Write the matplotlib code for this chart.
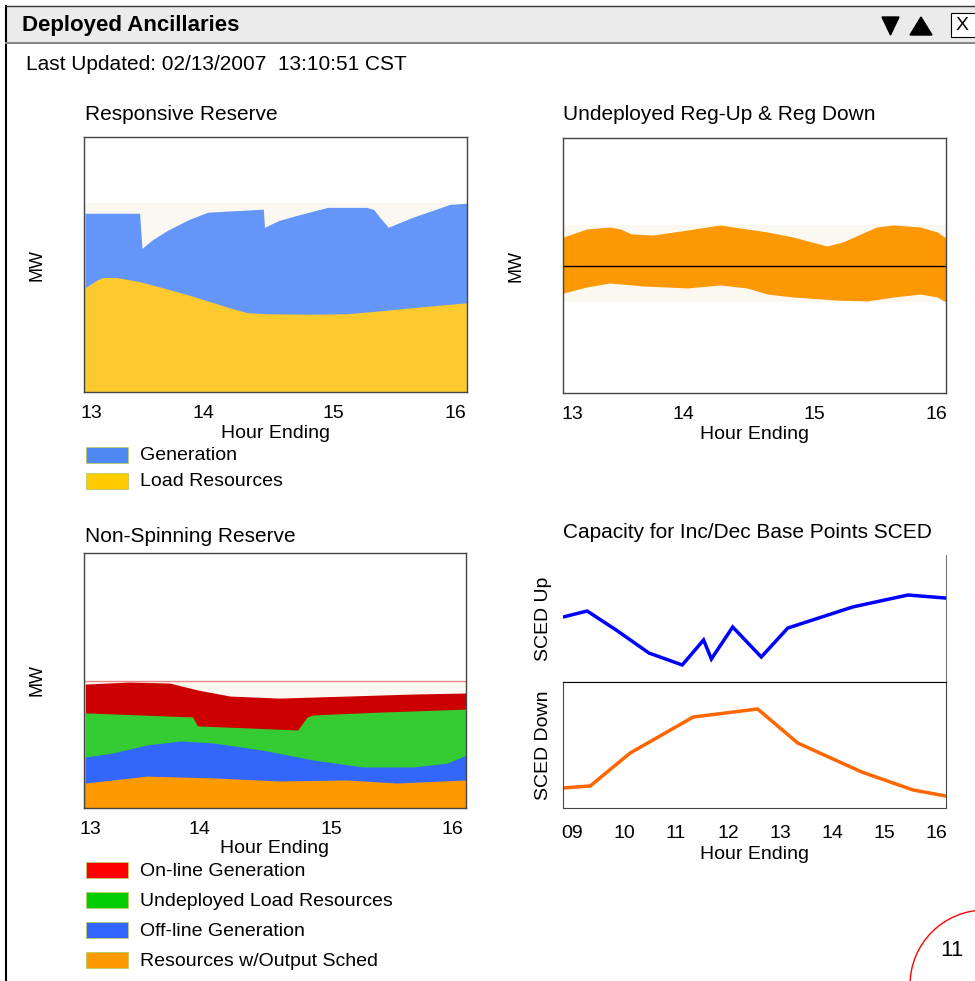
import numpy as np
import matplotlib
matplotlib.use("Agg")
import matplotlib.pyplot as plt
from matplotlib.patches import Rectangle, Polygon, Ellipse

plt.rcParams['font.family'] = ['Liberation Sans', 'DejaVu Sans']

W, H = 975, 981

# ---- Responsive Reserve (hours, MW in arbitrary units) ----
rr_gen_x = [12.95, 13.40, 13.42, 13.50, 13.63, 13.80, 13.96, 14.42, 14.43, 14.55, 14.70, 14.95, 15.27, 15.33, 15.38, 15.45, 15.65, 15.96, 16.10]
rr_gen_top = [70.1, 70.1, 56.3, 59.5, 63.4, 67.5, 70.5, 71.7, 64.6, 67.3, 69.3, 72.4, 72.4, 71.6, 68.5, 64.6, 68.5, 73.6, 74.0]
rr_load_x = [12.95, 12.99, 13.05, 13.10, 13.21, 13.40, 13.59, 13.80, 14.01, 14.15, 14.29, 14.45, 14.80, 15.11, 15.40, 15.65, 16.10]
rr_load = [40.9, 42.1, 44.0, 44.9, 44.9, 43.3, 40.9, 38.1, 35.0, 32.9, 31.1, 30.7, 30.5, 30.7, 31.9, 33.1, 35.0]

# ---- Undeployed Reg-Up & Reg-Down ----
reg_up_x = [12.93, 13.12, 13.31, 13.40, 13.49, 13.67, 13.95, 14.22, 14.33, 14.61, 14.82, 15.10, 15.23, 15.51, 15.65, 15.87, 16.01, 16.08]
reg_up = [22.4, 28.6, 30.2, 28.6, 24.7, 23.9, 27.8, 31.8, 30.2, 26.3, 22.4, 15.3, 18.4, 30.2, 31.8, 30.2, 26.3, 21.6]
reg_dn_x = [12.93, 13.12, 13.31, 13.59, 13.95, 14.22, 14.44, 14.61, 14.82, 15.18, 15.43, 15.65, 15.87, 16.01, 16.08]
reg_dn = [-21.6, -16.9, -13.7, -16.1, -17.6, -15.3, -17.6, -22.4, -24.7, -27.1, -27.8, -24.7, -22.4, -24.7, -28.6]

# ---- Non-Spinning Reserve (cumulative tops) ----
ns_online_x = [12.96, 13.33, 13.66, 13.89, 14.16, 14.57, 15.13, 15.68, 16.12]
ns_online = [48.6, 49.4, 49.0, 46.3, 43.9, 43.1, 43.9, 44.7, 45.1]
ns_load_x = [12.96, 13.85, 13.89, 14.72, 14.80, 14.85, 15.40, 16.12]
ns_load = [37.3, 35.7, 32.2, 30.6, 35.7, 36.5, 37.6, 38.8]
ns_offline_x = [12.96, 13.19, 13.47, 13.75, 14.02, 14.43, 14.85, 15.26, 15.68, 15.96, 16.12]
ns_offline = [20.0, 21.6, 24.7, 26.3, 25.5, 22.7, 18.8, 16.1, 16.1, 17.6, 20.8]
ns_sched_x = [12.96, 13.19, 13.47, 14.02, 14.57, 15.13, 15.54, 16.12]
ns_sched = [9.8, 11.0, 12.5, 11.8, 10.6, 11.0, 9.8, 11.0]
ns_cap = 49.8

# ---- Capacity for Inc/Dec Base Points SCED ----
sced_up_x = [8.83, 9.29, 9.85, 10.48, 11.12, 11.53, 11.68, 12.09, 12.64, 13.15, 14.40, 15.46, 16.19]
sced_up = [51.2, 55.9, 40.9, 22.8, 13.4, 33.1, 18.1, 43.3, 19.7, 42.5, 59.1, 68.5, 66.1]
sced_dn_x = [8.83, 9.35, 10.12, 11.33, 12.57, 13.34, 14.57, 15.56, 16.19]
sced_dn = [15.9, 17.5, 43.7, 72.2, 78.6, 51.6, 28.6, 14.3, 9.5]

hour_labels = ['13', '14', '15', '16']
sced_labels = ['09', '10', '11', '12', '13', '14', '15', '16']

BEIGE = '#fbf8f1'
TITLE_FS = 15
TICK_FS = 14
LEG_FS = 14


def box(x0, y0, x1, y1):
    return [x0 / W, 1 - y1 / H, (x1 - x0) / W, (y1 - y0) / H]


def ftext(x, y, s, **kw):
    kw.setdefault('va', 'center')
    kw.setdefault('fontsize', TITLE_FS)
    fig.text(x / W, 1 - y / H, s, **kw)


def style_axes(ax, color='#444444'):
    ax.set_yticks([])
    ax.tick_params(axis='x', length=0, labelsize=TICK_FS, pad=9.5)
    for s in ax.spines.values():
        s.set_color(color)
        s.set_linewidth(1.0)


def legend_box(y, color, label):
    fig.add_artist(Rectangle((86 / W, 1 - (y + 8) / H), 42 / W, 16 / H,
                             transform=fig.transFigure, facecolor=color,
                             edgecolor='#b8cc66', linewidth=0.6))
    ftext(140, y + 1, label, fontsize=LEG_FS)


fig = plt.figure(figsize=(W / 100, H / 100), dpi=100)

# window frame and header
fig.add_artist(Rectangle((6 / W, 1 - 43 / H), 1, 37 / H, transform=fig.transFigure,
                         facecolor='#ebebeb', edgecolor='none'))
fig.add_artist(plt.Line2D([6 / W, 6 / W], [0, 1 - 6 / H], transform=fig.transFigure, color='black', lw=1.5))
fig.add_artist(plt.Line2D([6 / W, 1], [1 - 6 / H, 1 - 6 / H], transform=fig.transFigure, color='#333333', lw=1.0))
fig.add_artist(plt.Line2D([6 / W, 1], [1 - 43 / H, 1 - 43 / H], transform=fig.transFigure, color='#888888', lw=1.5))
ftext(22, 25, 'Deployed Ancillaries', fontsize=16, fontweight='bold')
fig.add_artist(Polygon([(882 / W, 1 - 17 / H), (899 / W, 1 - 17 / H), (890.5 / W, 1 - 35 / H)],
                       closed=True, transform=fig.transFigure, color='black'))
fig.add_artist(Polygon([(910 / W, 1 - 35 / H), (932 / W, 1 - 35 / H), (921 / W, 1 - 17 / H)],
                       closed=True, transform=fig.transFigure, color='black'))
fig.add_artist(Rectangle((951 / W, 1 - 37 / H), 30 / W, 24 / H, transform=fig.transFigure,
                         facecolor='white', edgecolor='black', lw=0.8))
ftext(956, 25, 'X', fontsize=14)
ftext(26, 64, 'Last Updated: 02/13/2007  13:10:51 CST', fontsize=TITLE_FS)

# ---- panel 1: Responsive Reserve ----
ax1 = fig.add_axes(box(84, 137, 467, 392))
ax1.axhspan(0, max(rr_gen_top), color=BEIGE, lw=0)
ax1.fill_between(rr_gen_x, 0, rr_gen_top, color='#6495f9', lw=0)
ax1.fill_between(rr_load_x, 0, rr_load, color='#fcc92f', lw=0)
ax1.set_xlim(12.942, 16.099)
ax1.set_ylim(0, 100)
ax1.set_xticks([13, 13.93, 15, 16], hour_labels)
style_axes(ax1)
ax1.set_ylabel('MW', fontsize=13, labelpad=28)
ax1.set_xlabel('Hour Ending', fontsize=TICK_FS, labelpad=2)
ftext(85, 115, 'Responsive Reserve')
legend_box(455, '#4f88f2', 'Generation')
legend_box(481, '#ffcc00', 'Load Resources')

# ---- panel 2: Undeployed Reg-Up & Reg Down ----
ax2 = fig.add_axes(box(563, 138, 946, 393))
ax2.axhspan(min(reg_dn), max(reg_up), color=BEIGE, lw=0)
ax2.fill_between(reg_up_x, 0, reg_up, color='#fb9804', lw=0)
ax2.fill_between(reg_dn_x, reg_dn, 0, color='#fb9804', lw=0)
ax2.axhline(0, color='black', lw=1.0)
ax2.set_xlim(12.926, 16.082)
ax2.set_ylim(-100, 100)
ax2.set_xticks([13, 13.92, 15, 16], hour_labels)
style_axes(ax2)
ax2.set_ylabel('MW', fontsize=13, labelpad=28)
ax2.set_xlabel('Hour Ending', fontsize=TICK_FS, labelpad=2)
ftext(563, 115, 'Undeployed Reg-Up & Reg Down')

# ---- panel 3: Non-Spinning Reserve ----
ax3 = fig.add_axes(box(84, 553, 466, 808))
ax3.axhspan(0, ns_cap, color=BEIGE, lw=0)
ax3.axhline(ns_cap, color='#e88888', lw=1.0)
ax3.fill_between(ns_online_x, 0, ns_online, color='#cc0000', lw=0)
ax3.fill_between(ns_load_x, 0, ns_load, color='#35cc33', lw=0)
ax3.fill_between(ns_offline_x, 0, ns_offline, color='#3366fa', lw=0)
ax3.fill_between(ns_sched_x, 0, ns_sched, color='#ff9900', lw=0)
ax3.set_xlim(12.95, 16.116)
ax3.set_ylim(0, 100)
ax3.set_xticks([13, 13.91, 15, 16], hour_labels)
style_axes(ax3)
ax3.set_ylabel('MW', fontsize=13, labelpad=28)
ax3.set_xlabel('Hour Ending', fontsize=TICK_FS, labelpad=1)
ftext(85, 536, 'Non-Spinning Reserve')
legend_box(870, '#ff0000', 'On-line Generation')
legend_box(900, '#00cc00', 'Undeployed Load Resources')
legend_box(930, '#3366ff', 'Off-line Generation')
legend_box(960, '#ff9900', 'Resources w/Output Sched')

# ---- panel 4: SCED capacity ----
ax4 = fig.add_axes(box(563, 555, 946, 682))
ax4.plot(sced_up_x, sced_up, color='#0000ff', lw=2.5, solid_joinstyle='miter')
ax4.set_xlim(8.826, 16.193)
ax4.set_ylim(0, 100)
ax4.set_xticks([])
ax4.set_yticks([])
for s in ['top', 'left']:
    ax4.spines[s].set_visible(False)
ax4.spines['right'].set_color('#777777')
ax4.spines['bottom'].set_color('black')
ax4.set_ylabel('SCED Up', fontsize=TICK_FS, labelpad=8)

ax5 = fig.add_axes(box(563, 682, 946, 808))
ax5.plot(sced_dn_x, sced_dn, color='#ff6600', lw=2.5, solid_joinstyle='miter')
ax5.set_xlim(8.826, 16.193)
ax5.set_ylim(0, 100)
ax5.set_xticks(range(9, 17), sced_labels)
ax5.set_yticks([])
ax5.tick_params(axis='x', length=0, labelsize=TICK_FS, pad=12)
for s in ax5.spines.values():
    s.set_color('#444444')
ax5.spines['top'].set_color('black')
ax5.set_ylabel('SCED Down', fontsize=TICK_FS, labelpad=8)
ax5.set_xlabel('Hour Ending', fontsize=TICK_FS, labelpad=3)
ftext(563, 533, 'Capacity for Inc/Dec Base Points SCED')

# page number badge
fig.add_artist(Ellipse((985 / W, 1 - 985 / H), 150 / W, 150 / H, transform=fig.transFigure,
                       facecolor='none', edgecolor='red', lw=1.0))
ftext(952, 950, '11', fontsize=16, ha='center')

fig.savefig('out.png', dpi=100)
